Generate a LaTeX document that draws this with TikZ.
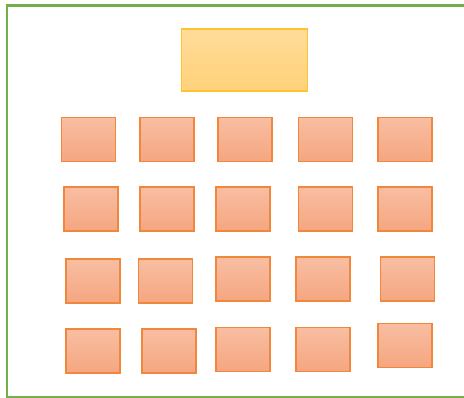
\documentclass[tikz,border=0pt]{standalone}
\usetikzlibrary{positioning}

\definecolor{framegreen}{HTML}{74AF4C}
\definecolor{deskline}{HTML}{F0873C}
\definecolor{desktop}{HTML}{F8BEA2}
\definecolor{deskbottom}{HTML}{F5A680}
\definecolor{boardline}{HTML}{FFC32B}
\definecolor{boardtop}{HTML}{FFDC9A}
\definecolor{boardbottom}{HTML}{FFD27A}

\begin{document}
\begin{tikzpicture}
[
	x=1pt,y=-1pt,
	desk/.style={rectangle,draw=deskline,line width=1.4pt,top color=desktop,bottom color=deskbottom,
		inner sep=0pt,minimum width=54pt,minimum height=44pt},
	board/.style={rectangle,draw=boardline,line width=1.4pt,top color=boardtop,bottom color=boardbottom,
		inner sep=0pt,minimum width=126pt,minimum height=62pt}
]

	\useasboundingbox (0,0) rectangle (464,397);

	% room
	\draw[framegreen,line width=2.4pt] (7,5.5) rectangle (480,397);

	% board
	\node[board] (board) at (244.6,59.8) {};

	% desks, row by row
	\foreach \name/\x/\y in {
		desk11/88.7/139.2, desk12/166.8/139.2, desk13/245.0/139.2, desk14/325.2/139.2, desk15/405.0/139.2,
		desk21/90.8/208.8, desk22/166.8/208.8, desk23/242.8/208.8, desk24/325.2/208.8, desk25/405.0/208.8,
		desk31/92.8/281.0, desk32/165.2/281.0, desk33/243.0/279.0, desk34/323.0/279.0, desk35/407.2/279.0,
		desk41/92.8/351.0, desk42/168.8/351.0, desk43/243.0/349.2, desk44/323.0/349.2, desk45/405.0/345.2} {
		\node[desk] (\name) at (\x,\y) {};
	}

\end{tikzpicture}
\end{document}
